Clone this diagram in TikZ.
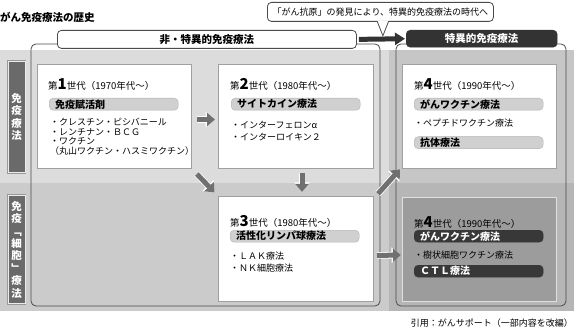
\documentclass[tikz,border=0pt]{standalone}
\usepackage{fontspec}
\setmainfont{Noto Sans CJK JP}
\usetikzlibrary{arrows.meta}
\definecolor{bandA}{HTML}{DCDCDC}
\definecolor{bandB}{HTML}{CBCBCB}
\definecolor{colA}{HTML}{C6C6C6}
\definecolor{colB}{HTML}{B6B6B6}
\definecolor{frameline}{HTML}{4A4A4A}
\definecolor{boxline}{HTML}{A0A0A0}
\definecolor{pillgray}{HTML}{D0D0D0}
\definecolor{darkpill}{HTML}{383838}
\definecolor{labelfill}{HTML}{6A6A6A}
\definecolor{arrowgray}{HTML}{707070}
\definecolor{boxdark}{HTML}{9C9C9C}
\definecolor{bannerdark}{HTML}{333333}
\begin{document}
\begin{tikzpicture}[x=1pt,y=-1pt,
  genbox/.style={draw=boxline, fill=white, line width=1pt, minimum width=154pt, minimum height=104pt, inner sep=0pt, anchor=north west},
  darkbox/.style={genbox, draw=white!88!black, fill=boxdark},
  pillbox/.style={fill=pillgray, draw=pillgray!85!black, line width=0.4pt, rounded corners=4pt, anchor=north west, minimum height=12pt, text width=117pt, inner xsep=6pt, inner ysep=0pt, align=left, font=\fontsize{10}{11}\selectfont\bfseries},
  darkpillbox/.style={pillbox, fill=darkpill, draw=darkpill, text=white},
  gentitle/.style={anchor=base west, inner sep=0pt, font=\fontsize{9.5}{10}\selectfont},
  bullets/.style={anchor=base west, inner sep=0pt, align=left, font=\fontsize{9}{#1}\selectfont},
  bullets/.default=10,
  sidelabel/.style={fill=labelfill, draw=white!92!black, line width=1.2pt, preaction={draw=black!40, line width=2.6pt}, text=white, minimum width=17pt, inner sep=0pt, align=center, font=\fontsize{10.5}{12.4}\selectfont\bfseries},
  blkarrow/.style={draw=arrowgray, line width=5pt, -{Triangle[length=8pt, width=13pt]}, preaction={draw=white, line width=6.6pt, -{Triangle[length=9.5pt, width=15pt]}}},
  framebox/.style={draw=frameline, line width=0.8pt, rounded corners=5pt},
]
\useasboundingbox (0,0) rectangle (574,329);
\fill[white] (0,0) rectangle (574,329);
% background bands
\fill[bandA] (0,50) rectangle (574,183);
\fill[bandB] (0,183) rectangle (574,311);
\fill[colA] (389,50) rectangle (574,183);
\fill[colB] (389,183) rectangle (574,311);
% frames
\draw[framebox] (31,44) rectangle (380,306);
\draw[framebox] (396,44) rectangle (566,306);

% title
\node[anchor=base west, inner sep=0pt, font=\fontsize{10.5}{11}\selectfont\bfseries] (title) at (0,22) {がん免疫療法の歴史};

% callout
\node[draw=frameline, line width=0.8pt, fill=white, rounded corners=4pt, minimum width=226pt, minimum height=19pt, inner sep=0pt, anchor=north west, font=\fontsize{9}{10}\selectfont] (callout) at (267,2) {「がん抗原」の発見により、特異的免疫療法の時代へ};
\coordinate (tailL) at ([xshift=-3pt]callout.south);
\coordinate (tailR) at ([xshift=8pt]callout.south);
\coordinate (tailT) at ([xshift=2.5pt,yshift=-14pt]callout.south);
\fill[white] ([yshift=1.2pt]tailL) -- (tailT) -- ([yshift=1.2pt]tailR) -- cycle;
\draw[frameline, line width=0.8pt, line join=miter] (tailL) -- (tailT) -- (tailR);

% banners
\node[draw=frameline, line width=0.8pt, fill=white, rounded corners=4pt, minimum width=299pt, minimum height=18pt, inner sep=0pt, anchor=north west, font=\fontsize{10.5}{11}\selectfont\bfseries] (ban1) at (57,30) {非・特異的免疫療法};
\node[draw=bannerdark, fill=bannerdark, rounded corners=4pt, minimum width=151pt, minimum height=17pt, inner sep=0pt, anchor=north west, text=white, font=\fontsize{10.5}{11}\selectfont\bfseries] (ban2) at (406,30) {特異的免疫療法};
\draw[draw=bannerdark, line width=5pt, -{Triangle[length=10pt, width=12pt]}, shorten <=2pt, shorten >=1pt] (ban1.east) -- (ban2.west);

% side labels
\node[sidelabel, minimum height=111pt, anchor=north west] (lab1) at (7.5,61) {免\\疫\\療\\法};
\node[sidelabel, minimum height=108pt, anchor=north west] (lab2) at (7.5,195) {免\\疫\\﹁\\細\\胞\\﹂\\療\\法};

% boxes
\node[genbox] (b1) at (37,64) {};
\node[genbox, minimum width=155pt] (b2) at (218,64) {};
\node[genbox] (b4a) at (402,64) {};
\node[genbox, minimum width=155pt, minimum height=105pt] (b3) at (218,196) {};
\node[darkbox, minimum height=104pt] (b4b) at (402,197) {};

% box 1
\node[gentitle] (t1) at (48,90) {第{\fontsize{15}{15}\selectfont\bfseries 1}世代（1970年代〜）};
\node[pillbox] (p1) at (49,98) {免疫賦活剤};
\node[bullets=10] (l1) at (50,155) {・クレスチン・ピシバニール\\・レンチナン・ＢＣＧ\\・ワクチン\\（丸山ワクチン・ハスミワクチン）};

% box 2
\node[gentitle] (t2) at (230,90) {第{\fontsize{15}{15}\selectfont\bfseries 2}世代（1980年代〜）};
\node[pillbox] (p2) at (231,98) {サイトカイン療法};
\node[bullets=11.7] (l2) at (231,140.5) {・インターフェロンα\\・インターロイキン２};

% box 4a
\node[gentitle] (t4) at (414,90) {第{\fontsize{15}{15}\selectfont\bfseries 4}世代（1990年代〜）};
\node[pillbox] (p4) at (414,98) {がんワクチン療法};
\node[bullets] (l4) at (414,126.5) {・ペプチドワクチン療法};
\node[pillbox] (p4b) at (414,136.5) {抗体療法};

% box 3
\node[gentitle] (t3) at (230,226) {第{\fontsize{15}{15}\selectfont\bfseries 3}世代（1980年代〜）};
\node[pillbox] (p3) at (230,230) {活性化リンパ球療法};
\node[bullets=11.3] (l3) at (230,271) {・ＬＡＫ療法\\・ＮＫ細胞療法};

% box 4b
\node[gentitle] (t5) at (414,227) {第{\fontsize{15}{15}\selectfont\bfseries 4}世代（1990年代〜）};
\node[darkpillbox] (p5) at (414,230) {がんワクチン療法};
\node[bullets] (l5) at (414,258.5) {・樹状細胞ワクチン療法};
\node[darkpillbox] (p5b) at (414,265) {ＣＴＬ療法};

% arrows between boxes
\draw[blkarrow, shorten <=5pt, shorten >=3pt] ([yshift=-3pt]b1.east) -- ([yshift=-3pt]b2.west);
\draw[blkarrow, shorten <=7pt, shorten >=5pt] (b1.south east) -- (b3.north west);
\draw[blkarrow, shorten <=4pt, shorten >=4pt] ([xshift=6pt]b2.south) -- ([xshift=6pt]b3.north);
\draw[blkarrow, shorten <=3pt, shorten >=3pt] ([xshift=2pt]b3.north east) -- ([yshift=2pt]b4a.south west);
\draw[blkarrow, shorten <=3pt, shorten >=1pt] ([yshift=-6.5pt]b3.east) -- ([yshift=-5.5pt]b4b.west);

% credit
\node[anchor=base east, inner sep=0pt, font=\fontsize{9}{10}\selectfont] (credit) at (573,326) {引用：がんサポート（一部内容を改編）};
\end{tikzpicture}
\end{document}
